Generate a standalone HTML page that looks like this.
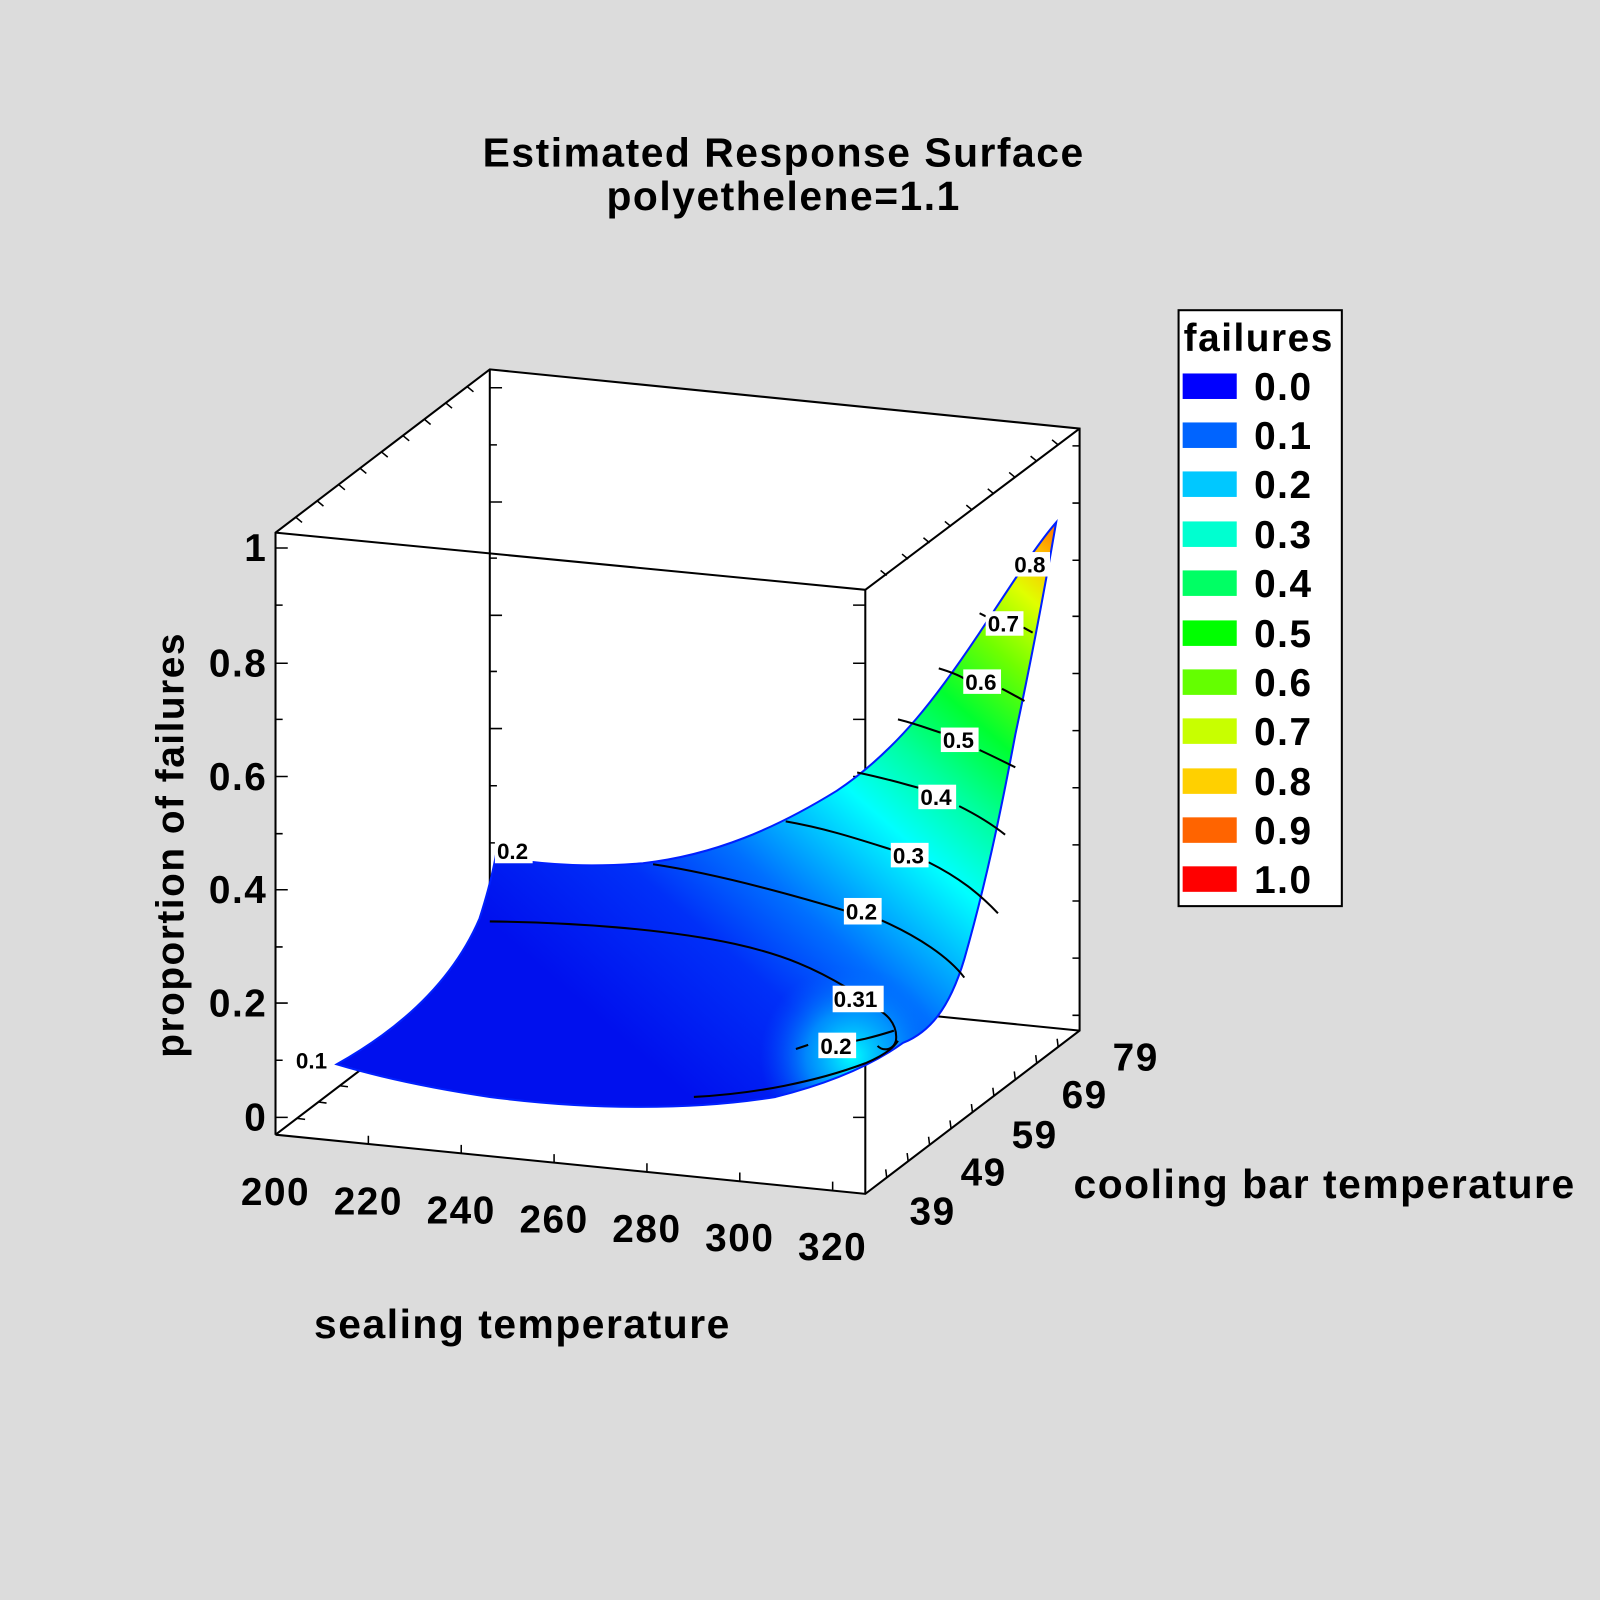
<!DOCTYPE html>
<html><head><meta charset="utf-8"><style>
html,body{margin:0;padding:0;background:#dcdcdc;}
svg{display:block;}
text{font-family:"Liberation Sans",Arial,sans-serif;font-weight:bold;fill:#000;}
.big{letter-spacing:1.5px;}
</style></head><body>
<svg width="1600" height="1600" viewBox="0 0 1568 1568" xmlns="http://www.w3.org/2000/svg">
<rect x="0" y="0" width="1568" height="1568" fill="#dcdcdc"/>
<defs>
<linearGradient id="g" gradientUnits="userSpaceOnUse" x1="600" y1="1010" x2="1035" y2="512">
<stop offset="0" stop-color="#0010ee"/>
<stop offset="0.2" stop-color="#0030f8"/>
<stop offset="0.32" stop-color="#0070ff"/>
<stop offset="0.42" stop-color="#00c0ff"/>
<stop offset="0.5" stop-color="#00ffff"/>
<stop offset="0.6" stop-color="#00ffa0"/>
<stop offset="0.7" stop-color="#00ff30"/>
<stop offset="0.8" stop-color="#70ff00"/>
<stop offset="0.89" stop-color="#e0ff00"/>
<stop offset="0.95" stop-color="#ffc000"/>
<stop offset="1" stop-color="#ff7000"/>
</linearGradient>
<radialGradient id="r" gradientUnits="userSpaceOnUse" cx="835" cy="1035" r="90">
<stop offset="0" stop-color="#00ffff" stop-opacity="1"/>
<stop offset="0.5" stop-color="#00b0ff" stop-opacity="0.7"/>
<stop offset="1" stop-color="#0060ff" stop-opacity="0"/>
</radialGradient>
<clipPath id="c"><path id="sp" d="M330,1043 C380,1015 440,970 470,900 C478,875 483,855 486,838 L500,842 C540,848 580,850 630,846 C700,838 760,812 820,775 C880,735 920,680 960,620 C990,575 1015,535 1035,512 C1025,570 1010,650 995,720 C980,800 965,870 945,940 C930,990 910,1012 885,1022 C860,1040 820,1060 760,1075 C680,1088 580,1088 480,1075 C420,1066 370,1055 330,1043 Z"/></clipPath>
</defs>
<text class="big" x="768" y="163" font-size="40" text-anchor="middle">Estimated Response Surface</text>
<text class="big" x="768" y="206" font-size="40" text-anchor="middle">polyethelene=1.1</text>
<polygon points="270,522 480,362 1058,420 1058,1010 848,1170 270,1112" fill="#fff"/>
<g stroke="#000" stroke-width="2" fill="none">
<polyline points="270,1112 270,522 480,362 1058,420 1058,1010 848,1170 270,1112"/>
<polyline points="270,522 848,578 1058,420"/>
<line x1="848" y1="578" x2="848" y2="1170"/>
<line x1="480" y1="362" x2="480" y2="952"/>
<line x1="270" y1="1112" x2="480" y2="952"/>
<line x1="480" y1="952" x2="1058" y2="1010"/>
</g>
<g stroke="#000" stroke-width="1.5">
<path d="M270 537h12M270 593h7M270 650h12M270 705h7M270 761h12M270 817h7M270 872h12M270 928h7M270 983h12M270 1039h7M270 1095h12"/>
<path d="M848 593h-12M848 650h-12M848 705h-12M848 761h-12M848 817h-12M848 872h-12M848 928h-12M848 983h-12M848 1039h-12M848 1095h-12"/>
<path d="M480 380h12M480 436h7M480 492h12M480 547h7M480 603h12M480 658h7M480 714h12M480 770h7M480 826h12"/>
<path d="M1058 437h-7M1058 493h-7M1058 549h-7M1058 604h-7M1058 660h-7M1058 716h-7M1058 772h-7M1058 828h-7M1058 883h-7M1058 939h-7M1058 995h-7"/>
<path d="M290 507l6 5M311 491l6 5M332 475l6 5M353 459l6 5M374 443l6 5M395 427l6 5M416 411l6 5M437 395l6 5M458 379l6 5"/>
<path d="M1037 436l-6 -5M1016 452l-6 -5M995 468l-6 -5M974 484l-6 -5M953 500l-6 -5M932 516l-6 -5M911 532l-6 -5M890 548l-6 -5M869 564l-6 -5"/>
<path d="M869 1154l-1 -8M890 1138l-1 -8M911 1122l-1 -8M932 1106l-1 -8M953 1090l-1 -8M974 1074l-1 -8M995 1058l-1 -8M1016 1042l-1 -8M1037 1026l-1 -8"/>
<path d="M291 1096l8 1M312 1080l8 1M333 1064l8 1"/>
<path d="M270 1112l0 -8M361 1121l0 -8M452 1130l0 -8M543 1139l0 -8M634 1148l0 -8M725 1157l0 -8M816 1166l0 -8"/>
</g>
<use href="#sp" fill="url(#g)"/>
<rect x="700" y="930" width="260" height="170" fill="url(#r)" clip-path="url(#c)"/>
<use href="#sp" fill="none" stroke="#0020ff" stroke-width="2"/>
<g stroke="#000" stroke-width="2" fill="none">
<path d="M480,903 C560,904 650,910 720,925 C770,936 800,950 830,968"/>
<path d="M640,847 C700,856 770,875 830,893"/>
<path d="M864,902 C900,918 930,938 945,958"/>
<path d="M770,805 C810,812 840,822 875,833"/>
<path d="M910,845 C940,860 960,876 978,895"/>
<path d="M840,757 C865,762 885,768 900,772"/>
<path d="M940,790 C960,800 975,810 985,818"/>
<path d="M880,705 C900,710 912,715 922,718"/>
<path d="M960,735 C975,742 985,747 995,752"/>
<path d="M920,655 C930,658 940,662 945,665"/>
<path d="M982,675 C990,679 997,683 1004,687"/>
<path d="M960,601 L966,604"/>
<path d="M1003,615 L1012,620"/>
<path d="M848,985 C870,990 880,1005 878,1020 C875,1030 865,1030 860,1025"/>
<path d="M680,1075 C740,1072 800,1060 848,1042 C865,1035 875,1028 880,1020"/>
<path d="M792,1024 L780,1028"/>
<path d="M838,1020 L848,1018 C860,1015 870,1012 876,1010"/>
</g>
<g font-size="22">
<rect x="288" y="1027" width="36" height="24" fill="#fff"/><text x="290" y="1047">0.1</text>
<rect x="485" y="822" width="37" height="24" fill="#fff"/><text x="487" y="842">0.2</text>
<rect x="827" y="880" width="37" height="26" fill="#fff"/><text x="829" y="901">0.2</text>
<rect x="816" y="966" width="50" height="26" fill="#fff"/><text x="817" y="987">0.31</text>
<rect x="802" y="1012" width="37" height="25" fill="#fff"/><text x="804" y="1033">0.2</text>
<rect x="873" y="826" width="37" height="24" fill="#fff"/><text x="875" y="846">0.3</text>
<rect x="900" y="769" width="37" height="24" fill="#fff"/><text x="902" y="789">0.4</text>
<rect x="922" y="713" width="37" height="24" fill="#fff"/><text x="924" y="733">0.5</text>
<rect x="944" y="656" width="37" height="24" fill="#fff"/><text x="946" y="676">0.6</text>
<rect x="966" y="599" width="37" height="24" fill="#fff"/><text x="968" y="619">0.7</text>
<rect x="992" y="541" width="37" height="24" fill="#fff"/><text x="994" y="561">0.8</text>
</g>
<g font-size="38" text-anchor="end" class="big">
<text x="262" y="550">1</text>
<text x="262" y="663">0.8</text>
<text x="262" y="774">0.6</text>
<text x="262" y="885">0.4</text>
<text x="262" y="996">0.2</text>
<text x="262" y="1108">0</text>
</g>
<text class="big" transform="translate(180,828) rotate(-90)" font-size="38" text-anchor="middle">proportion of failures</text>
<g font-size="38" text-anchor="middle" class="big">
<text x="270" y="1181">200</text>
<text x="361" y="1190">220</text>
<text x="452" y="1199">240</text>
<text x="543" y="1208">260</text>
<text x="634" y="1217">280</text>
<text x="725" y="1226">300</text>
<text x="816" y="1235">320</text>
</g>
<text class="big" x="512" y="1311" font-size="40" text-anchor="middle">sealing temperature</text>
<g font-size="38" text-anchor="middle" class="big">
<text x="914" y="1200">39</text>
<text x="964" y="1162">49</text>
<text x="1014" y="1125">59</text>
<text x="1063" y="1086">69</text>
<text x="1113" y="1049">79</text>
</g>
<text class="big" x="1052" y="1174" font-size="40">cooling bar temperature</text>
<rect x="1155" y="304" width="160" height="584" fill="#fff" stroke="#000" stroke-width="2"/>
<text class="big" x="1160" y="344" font-size="38">failures</text>
<g>
<rect x="1159" y="366" width="53" height="25" fill="#0000ff"/>
<rect x="1159" y="414" width="53" height="25" fill="#0064ff"/>
<rect x="1159" y="462" width="53" height="25" fill="#00c8ff"/>
<rect x="1159" y="511" width="53" height="25" fill="#00ffd0"/>
<rect x="1159" y="559" width="53" height="25" fill="#00ff64"/>
<rect x="1159" y="608" width="53" height="25" fill="#00ff00"/>
<rect x="1159" y="656" width="53" height="25" fill="#64ff00"/>
<rect x="1159" y="704" width="53" height="25" fill="#c8ff00"/>
<rect x="1159" y="753" width="53" height="25" fill="#ffd000"/>
<rect x="1159" y="801" width="53" height="25" fill="#ff6400"/>
<rect x="1159" y="849" width="53" height="25" fill="#ff0000"/>
</g>
<g font-size="38" class="big">
<text x="1229" y="392">0.0</text>
<text x="1229" y="440">0.1</text>
<text x="1229" y="488">0.2</text>
<text x="1229" y="537">0.3</text>
<text x="1229" y="585">0.4</text>
<text x="1229" y="634">0.5</text>
<text x="1229" y="682">0.6</text>
<text x="1229" y="730">0.7</text>
<text x="1229" y="779">0.8</text>
<text x="1229" y="827">0.9</text>
<text x="1229" y="875">1.0</text>
</g>
</svg>
</body></html>
